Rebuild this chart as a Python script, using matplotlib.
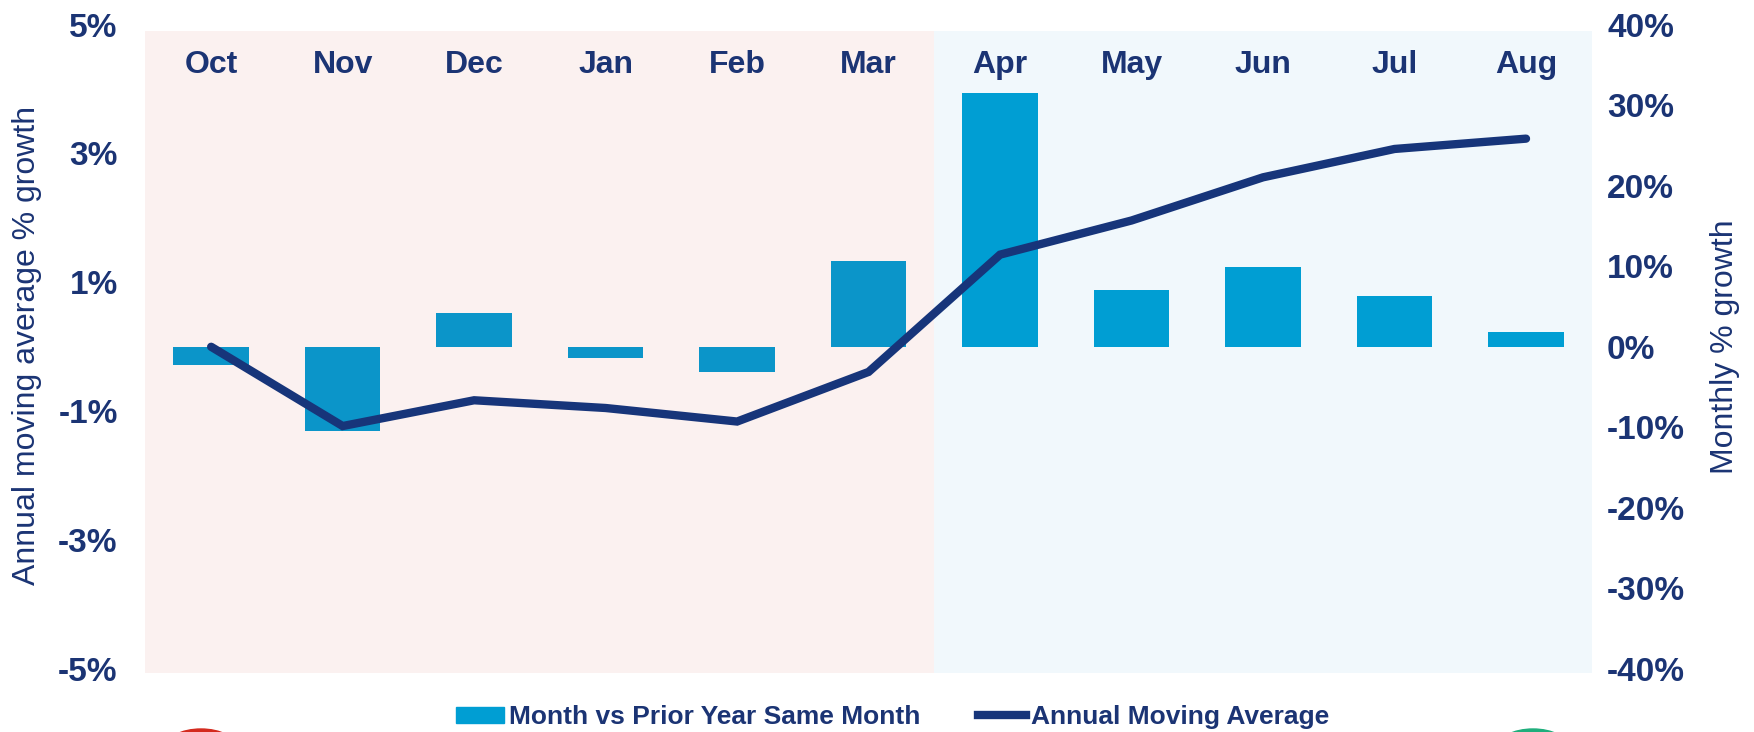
import matplotlib.pyplot as plt
from matplotlib.patches import Ellipse
from matplotlib.lines import Line2D
from matplotlib.patches import Patch

months = ['Oct', 'Nov', 'Dec', 'Jan', 'Feb', 'Mar', 'Apr', 'May', 'Jun', 'Jul', 'Aug']
monthly_growth = [-2.2, -10.4, 4.2, -1.4, -3.1, 10.6, 31.5, 7.1, 9.9, 6.3, 1.8]
moving_avg = [0.0, -1.23, -0.83, -0.95, -1.16, -0.39, 1.43, 1.96, 2.63, 3.07, 3.23]
left_ticks = [-5, -3, -1, 1, 3, 5]
right_ticks = [-40, -30, -20, -10, 0, 10, 20, 30, 40]

navy = '#1b3474'
line_col = '#17357a'
bar_old = '#0b95c9'
bar_new = '#009ed3'

plt.rcParams['font.family'] = ['Liberation Sans', 'DejaVu Sans']

fig = plt.figure(figsize=(17.54, 7.32), dpi=100)
ax = fig.add_axes([0.0829, 0.0861, 0.8246, 0.8803])
ax2 = ax.twinx()

x = list(range(len(months)))

# shaded halves
ax2.axvspan(-0.5, 5.5, ymin=-0.007, ymax=0.99, color='#fbf1f0', lw=0, zorder=0, clip_on=False)
ax2.axvspan(5.5, 10.5, ymin=-0.007, ymax=0.99, color='#f1f8fc', lw=0, zorder=0, clip_on=False)

colors = [bar_old] * 6 + [bar_new] * 5
ax2.bar(x, monthly_growth, width=0.575, color=colors, zorder=2)
ax.plot(x, moving_avg, color=line_col, lw=6, solid_capstyle='round', solid_joinstyle='miter', zorder=3)

ax.set_zorder(ax2.get_zorder() + 1)
ax.patch.set_visible(False)

ax.set_xlim(-0.5, 10.5)
ax.set_ylim(-5, 5)
ax2.set_ylim(-40, 40)

ax.set_yticks(left_ticks)
ax.set_yticklabels([f'{t}%' for t in left_ticks])
ax2.set_yticks(right_ticks)
ax2.set_yticklabels([f'{t}%' for t in right_ticks])
ax.set_xticks([])

for a in (ax, ax2):
    for s in a.spines.values():
        s.set_visible(False)
ax.tick_params(axis='y', length=0, pad=20, labelsize=24, labelcolor=navy)
ax2.tick_params(axis='y', length=0, pad=11, labelsize=24, labelcolor=navy)
for lab in ax.get_yticklabels() + ax2.get_yticklabels():
    lab.set_fontweight('bold')

# month labels inside the plot
for i, m in enumerate(months):
    ax.text(i, 0.937, m, transform=ax.get_xaxis_transform(), ha='center', va='center',
            fontsize=23, fontweight='bold', color=navy)

fig.text(0.0155, 0.528, 'Annual moving average % growth', rotation=90,
         ha='center', va='center', fontsize=23, color=navy)
fig.text(0.9835, 0.527, 'Monthly % growth', rotation=90,
         ha='center', va='center', fontsize=23, color=navy)

handles = [Patch(color=bar_new), Line2D([0], [0], color=line_col, lw=6)]
fig.legend(handles, ['Month vs Prior Year Same Month', 'Annual Moving Average'],
           loc='center', bbox_to_anchor=(0.509, 0.0205), ncol=2, frameon=False,
           prop={'size': 19, 'weight': 'bold'}, labelcolor=navy,
           handlelength=1.8, handleheight=0.55, handletextpad=0.2, columnspacing=2.2, borderpad=0)

# partially visible icons at the bottom corners
for cx, col in [(201, '#d42a1e'), (1533, '#1fae7c')]:
    fig.patches.append(Ellipse((cx / 1754, 1 - 748 / 732), 72 / 1754, 38 / 732,
                               transform=fig.transFigure, color=col, zorder=1))

fig.savefig('out.png', dpi=100)
